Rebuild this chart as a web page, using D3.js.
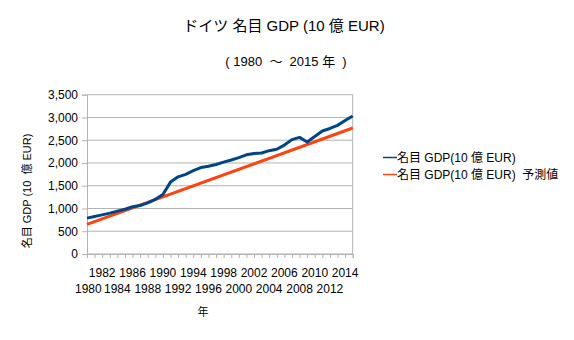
<!DOCTYPE html>
<html>
<head>
<meta charset="utf-8">
<script src="https://cdn.jsdelivr.net/npm/d3@7"></script>
<style>
  body { margin: 0; background: #fff; }
  text { font-family: "Liberation Sans", Arial, "Noto Sans CJK JP", sans-serif; fill: #000; }
</style>
</head>
<body>
<script>
// nominal GDP, billion EUR
var years = d3.range(1980, 2016);
var gdp = [788.5, 825.8, 860.2, 898.3, 942.0, 984.4, 1037.1, 1065.1, 1123.3, 1200.7,
           1306.7, 1579.8, 1695.3, 1748.6, 1830.3, 1898.9, 1926.3, 1967.1, 2018.2, 2064.9,
           2116.5, 2179.9, 2209.3, 2220.1, 2270.6, 2300.9, 2393.3, 2513.2, 2561.7, 2460.3,
           2580.1, 2703.1, 2758.3, 2826.2, 2932.5, 3032.8];
// trend line end points
var trendYears = [1980, 2015];
var trendValues = [652, 2768];
var yTicks = [0, 500, 1000, 1500, 2000, 2500, 3000, 3500];
var seriesNames = ["名目 GDP(10 億 EUR)", "名目 GDP(10 億 EUR)  予測値"];
var seriesColors = ["#004586", "#ff420e"];

var W = 574, H = 340;
var plot = {left: 87, right: 352.7, top: 94.7, bottom: 254};

var svg = d3.select("body").append("svg")
    .attr("width", W)
    .attr("height", H);

var x = d3.scaleLinear().domain([1980, 2015]).range([plot.left, plot.right]);
var y = d3.scaleLinear().domain([0, 3500]).range([plot.bottom, plot.top]);

// horizontal grid
svg.append("g").selectAll("line")
    .data(yTicks)
    .enter().append("line")
    .attr("x1", plot.left).attr("x2", plot.right)
    .attr("y1", function(d) { return y(d); })
    .attr("y2", function(d) { return y(d); })
    .attr("stroke", "#b3b3b3");

// right border
svg.append("line")
    .attr("x1", plot.right).attr("x2", plot.right)
    .attr("y1", plot.top).attr("y2", plot.bottom)
    .attr("stroke", "#b3b3b3");

// y axis
var yAxis = svg.append("g")
    .attr("transform", "translate(" + plot.left + ",0)")
    .call(d3.axisLeft(y).tickValues(yTicks).tickSize(5).tickPadding(4).tickFormat(d3.format(",")));
yAxis.select(".domain").attr("stroke", "#b3b3b3");
yAxis.selectAll(".tick line").attr("stroke", "#b3b3b3");
yAxis.selectAll("text").style("font-size", "12px").attr("fill", "#000");

// x axis
var xAxis = svg.append("g")
    .attr("transform", "translate(0," + plot.bottom + ")")
    .call(d3.axisBottom(x).tickValues(years).tickSize(4).tickFormat(""));
xAxis.select(".domain").attr("stroke", "#b3b3b3");
xAxis.selectAll(".tick line").attr("stroke", "#b3b3b3");

svg.append("g").selectAll("text")
    .data(years.filter(function(d) { return d % 2 === 0 && d < 2015; }))
    .enter().append("text")
    .attr("x", function(d) { return x(d); })
    .attr("y", function(d) { return d % 4 === 2 ? 277 : 293; })
    .attr("text-anchor", function(d) { return d === 1980 ? "start" : "middle"; })
    .attr("dx", function(d) { return d === 1980 ? -12 : 0; })
    .style("font-size", "12px")
    .text(function(d) { return d; });

// series
var line = d3.line()
    .x(function(d) { return x(d[0]); })
    .y(function(d) { return y(d[1]); });

svg.append("path")
    .datum(d3.zip(trendYears, trendValues))
    .attr("fill", "none")
    .attr("stroke", seriesColors[1])
    .attr("stroke-width", 3)
    .attr("d", line);

svg.append("path")
    .datum(d3.zip(years, gdp))
    .attr("fill", "none")
    .attr("stroke", seriesColors[0])
    .attr("stroke-width", 3)
    .attr("stroke-linejoin", "round")
    .attr("d", line);

// titles
svg.append("text")
    .attr("x", 284).attr("y", 31)
    .attr("text-anchor", "middle")
    .style("font-size", "15px")
    .text("ドイツ 名目 GDP (10 億 EUR)");

svg.append("text")
    .attr("x", 286).attr("y", 66)
    .attr("text-anchor", "middle")
    .style("font-size", "13px")
    .style("white-space", "pre")
    .text("( 1980  ～  2015 年  )");

svg.append("text")
    .attr("transform", "translate(31,191) rotate(-90)")
    .attr("text-anchor", "middle")
    .style("font-size", "11px")
    .style("white-space", "pre")
    .text("名目 GDP (10  億 EUR)");

svg.append("text")
    .attr("x", 203).attr("y", 316)
    .attr("text-anchor", "middle")
    .style("font-size", "11px")
    .text("年");

// legend
var legend = svg.append("g").selectAll("g")
    .data(seriesNames)
    .enter().append("g")
    .attr("transform", function(d, i) { return "translate(383," + (157.5 + i * 17) + ")"; });
legend.append("line")
    .attr("x1", 0).attr("x2", 14)
    .attr("stroke", function(d, i) { return seriesColors[i]; })
    .attr("stroke-width", 1.5);
legend.append("text")
    .attr("x", 14).attr("y", 4.5)
    .style("font-size", "12px")
    .style("white-space", "pre")
    .text(function(d) { return d; });
</script>
</body>
</html>
